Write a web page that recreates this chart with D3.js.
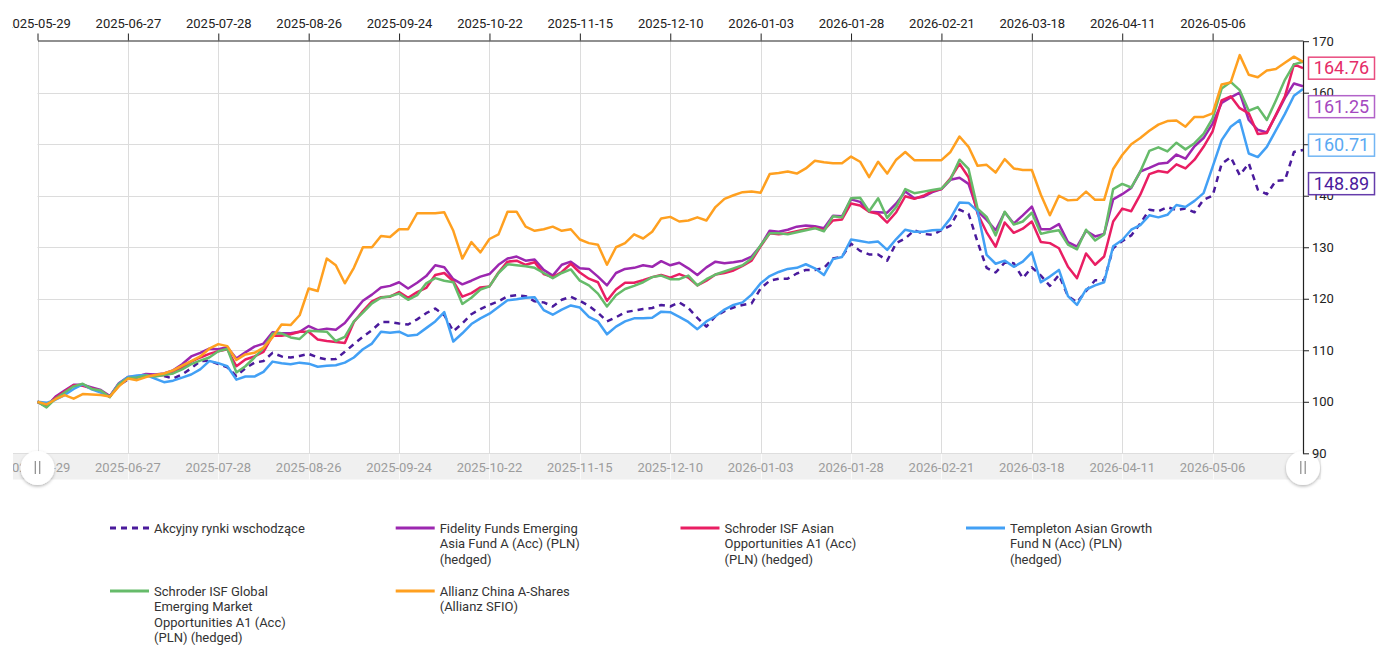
<!DOCTYPE html>
<html><head><meta charset="utf-8">
<script src="https://cdn.jsdelivr.net/npm/d3@7"></script>
<style>
html,body{margin:0;padding:0;background:#fff;}
svg{display:block;font-family:Roboto,"Noto Sans",sans-serif;}
</style></head><body>
<svg id="chart" width="1393" height="658"></svg>
<script>
// ---- data ----
const tickLabels = ["2025-05-29","2025-06-27","2025-07-28","2025-08-26","2025-09-24","2025-10-22","2025-11-15","2025-12-10","2026-01-03","2026-01-28","2026-02-21","2026-03-18","2026-04-11","2026-05-06"];
const pointsPerTick = 10;
const yTicks = [90,100,110,120,130,140,150,160,170];

const akcyjny = [100,99.4,100.7,101.9,103,103.2,102.6,102,101,103.2,
104.3,104.9,105.2,105.2,105,104.5,105.3,106.5,107.9,108,
107.3,106.7,105,106.5,107.6,107.9,109.5,108.8,108.6,108.9,
109.3,108.6,108.2,108.3,109.7,111.2,112.6,113.9,115.5,115.5,
115.2,115,116,117.2,118.1,116.8,113.7,115.2,117,118,
118.8,119.5,120.5,120.7,120.5,119.5,119.3,118.5,119.8,120.4,
119.6,118.6,117.3,115.6,116.4,117.4,117.7,118,118.2,118.8,
118.5,119.3,118.2,116.3,114.6,116.6,117.6,118.3,118.8,119.1,
122,123.5,123.9,123.9,124.9,125.6,125.6,126,127.8,128.2,
130.7,129.3,128.6,128.6,127.4,130.8,131.7,133.3,132.6,132.4,
133.3,134.2,137.3,136.5,131,126,125.1,127,126.9,124,
126.1,124.5,122.5,124.6,120.5,119.3,121.5,123.6,123.6,129.8,
131.2,132.3,134.6,137.3,137,137.8,137.2,137.5,136.8,139.2,
140,146.2,147.5,144,146.3,141.2,140.3,142.9,143,148.5,148.89];

const fidelity = [100,99.1,101,102.2,103.3,103.3,102.8,102.3,101.1,103.6,
104.8,104.9,105.4,105.3,105.5,106.1,107.3,108.8,109.5,110.3,
110.2,110.6,108.4,109.6,110.7,111.3,113.5,113.3,113.3,113.6,
114.7,113.9,114.2,114,115.3,117.5,119.6,120.8,122.2,122.5,
123.2,122,123.1,124.4,126.5,126.1,123.8,122.8,123.5,124.3,
124.8,126.6,127.8,128.2,127.4,127.6,125.6,124.5,126.6,127.2,
125.9,125.8,124.3,122.6,125,125.8,126,126.5,126.2,127.3,
126.5,127,125.9,124.6,126.1,127.2,126.9,127.1,127.4,128.2,
130.3,133.2,133,133.4,134,134.2,134.1,133.7,136.1,136,
139.3,138.8,136.9,136.8,136.7,138.5,140.8,139.5,139.8,140.7,
141.3,143.1,143.5,142.3,137,135.3,133.3,136.8,134.6,136.2,
137.9,133.5,133.5,134.5,131,130.1,133.2,132.1,132.6,139.3,
140.3,141.5,144.7,145.4,146.2,146.4,148,147.2,149.6,151.2,
154,158,159.1,160,154.7,152.8,152.3,155.6,159,161.8,161.25];

const schroderAsian = [100,99.1,100.8,102,103.2,103.1,102.6,102.1,101,103.5,
104.6,104.7,105.2,105,105.2,105.6,106.6,107.8,108.6,109.3,
109.8,110.2,106.9,108.2,108.8,109.7,112.8,112.8,113.1,113.6,
113.6,112.1,111.8,111.6,111.4,115.5,117.6,119.5,120.3,120.4,
121.3,120.2,121.3,122.1,124.6,125,123.4,120.4,121.1,122.2,
122.4,125.1,127.2,127.4,126.6,127.1,124.8,124.2,125.2,126.8,
125.1,123.9,123.2,119.6,121.8,123.1,123.1,123.6,124.2,124.6,
124.1,124.8,124.1,122.6,123.5,124.7,125,125.5,126.4,127.4,
130.2,132.7,132.5,132.7,133.1,133.5,133.8,133.3,135.2,135.4,
138.5,138.1,136.9,136.5,134.8,136.8,139.9,139.4,140,140.9,
141.3,143.4,146.2,143.6,136.5,132.9,130.1,134.8,132.8,133.6,
135,131,130.8,129.8,126.2,124,128.8,126.6,128.2,135,
137.5,137,140.2,144.2,144.8,144.5,146.1,145.3,147,149.5,
152.5,158.5,159.3,157,156,152,152.2,155.7,159.3,165.5,164.76];

const templeton = [100,99.8,100.4,101.3,102.5,103.4,102.4,101.8,101,103.5,
104.8,105.1,105.2,104.5,103.8,104.1,104.7,105.3,106.3,107.9,
107.5,106.9,104.3,104.9,104.9,105.8,107.8,107.5,107.3,107.6,
107.4,106.8,107,107.1,107.6,108.6,110.2,111.3,113.6,113.4,
113.6,112.8,113,114.3,115.6,117.4,111.7,113.3,115.1,116.2,
117.1,118.4,119.7,119.9,120.2,120.3,117.8,116.9,117.9,118.7,
118.3,116.5,115.6,113.1,114.6,115.6,116.2,116.2,116.3,117.5,
117.4,116.5,115.5,114.1,115.6,116.6,117.9,118.8,119.3,120.8,
123,124.4,125.2,125.8,126,126.7,125.9,124.6,127.7,128.1,
131.5,131.2,130.9,131.1,129.5,131.6,133.4,133,133,133.3,
133.4,135.6,138.7,138.6,137,128.5,126.8,127.4,126.2,127.2,
129,123.2,124.3,125.6,120.5,118.8,121.8,122.6,123.2,130.2,
131.4,133.4,134.3,136.2,135.8,136.3,138.2,137.8,139,140.5,
145.6,150.8,153.4,154.7,148.2,147.5,149.5,152.7,155.9,159.4,160.71];

const schroderGlobal = [100,98.9,100.6,101.8,103,103.5,102.5,102.2,100.9,103.4,
104.6,104.7,105.1,104.9,105.2,105.5,106.3,107.3,108,108.6,
109.8,110.3,105.7,106.9,108.6,110.4,113.2,113.3,112.5,112.2,
113.8,113.7,113.6,111.8,112.6,115.6,117.3,119.1,120.2,120.5,
121,119.8,120.7,123,124,123.5,123.2,119,120.2,121.8,
122.4,125,126.7,126.5,126.3,126,125,124,125,125.7,
123.5,122.6,121,118.5,120.7,121.9,122.5,123.2,124.2,124.5,
123.8,123.8,124.5,122.6,123.8,124.7,125.3,125.9,126.5,127.8,
130.4,132.7,132.7,132.5,132.9,133.3,133.7,133.1,136,135.8,
139.5,139.6,137,139.5,135.7,137.8,141.3,140.5,140.8,141.1,
141.4,143.2,147,145.2,137.5,135.9,132.3,136.9,134.4,135,
136.7,132.6,133,133.3,130.5,129.6,133.4,131.3,132.5,141.3,
142.3,141.6,144.7,148.7,149.4,148.6,150.3,149,150.2,152,
155,160.8,162.1,160.5,156.5,157.2,154.7,158.5,162.5,165.5,166];

const allianz = [100,99.5,100.5,101.3,100.6,101.5,101.4,101.3,101,103,
104.5,104.2,104.8,105.2,105.5,106.1,107,107.9,108.8,110.3,
111.2,110.8,108.1,109.2,109.5,110.5,112.5,115,114.9,116.8,
122,121.5,127.8,126.5,123,126,130,130,132.2,132,
133.5,133.5,136.6,136.6,136.6,136.8,133.2,127.8,131,129,
131.6,132.5,136.9,136.9,134,133.2,133.5,134,133.2,133.5,
131.5,130.8,130.5,126.6,130,130.8,132.5,131.7,133,135.6,
135.9,135,135.2,135.8,135.2,137.8,139.4,140.1,140.7,140.8,
140.6,144.2,144.4,144.7,144.3,145.3,146.8,146.5,146.3,146.3,
147.6,146.6,143.6,146.6,144.3,147,148.5,146.9,146.9,146.9,
146.9,148.5,151.5,149.5,145.8,146,144.5,147.1,145.3,145,
145,140.2,136.2,140,139.1,139.2,140.8,139.2,139.2,145.2,
147.9,150,151.2,152.6,153.8,154.5,154.6,153.4,155.3,155.3,
156,161.6,162,167.3,163.5,163,164.3,164.6,165.8,167,166];

const seriesNames = ["Akcyjny rynki wschodzące","Fidelity Funds Emerging Asia Fund A (Acc) (PLN) (hedged)","Schroder ISF Asian Opportunities A1 (Acc) (PLN) (hedged)","Templeton Asian Growth Fund N (Acc) (PLN) (hedged)","Schroder ISF Global Emerging Market Opportunities A1 (Acc) (PLN) (hedged)","Allianz China A-Shares (Allianz SFIO)"];
const legendLines = [
  ["Akcyjny rynki wschodzące"],
  ["Fidelity Funds Emerging","Asia Fund A (Acc) (PLN)","(hedged)"],
  ["Schroder ISF Asian","Opportunities A1 (Acc)","(PLN) (hedged)"],
  ["Templeton Asian Growth","Fund N (Acc) (PLN)","(hedged)"],
  ["Schroder ISF Global","Emerging Market","Opportunities A1 (Acc)","(PLN) (hedged)"],
  ["Allianz China A-Shares","(Allianz SFIO)"]
];
const seriesValues = [akcyjny, fidelity, schroderAsian, templeton, schroderGlobal, allianz];
const seriesColors = ["#4a1a9c","#9c27b0","#e91e63","#42a0f5","#66bb6a","#ffa020"];
const labelColors  = ["#4a1a9c","#a548c0","#e52d68","#5aa9f2"];
const labelled = [2,1,3,0]; // series with end-value labels

// ---- chart ----
const svg = d3.select("#chart");
const defs = svg.append("defs");
defs.append("clipPath").attr("id","pageClip").append("rect").attr("x",12).attr("y",0).attr("width",1381).attr("height",658);
defs.append("clipPath").attr("id","bandClip").append("rect").attr("x",13).attr("y",453).attr("width",1308).attr("height",27);
const f = defs.append("filter").attr("id","shadow").attr("x","-50%").attr("y","-50%").attr("width","200%").attr("height","200%");
f.append("feDropShadow").attr("dx",0).attr("dy",1.5).attr("stdDeviation",1.6).attr("flood-color","#000").attr("flood-opacity",0.28);

const root = svg.append("g").attr("clip-path","url(#pageClip)");

const N = akcyjny.length - 1;
const x = d3.scaleLinear().domain([0, N]).range([37.5, 1303]);
const y = d3.scaleLinear().domain([90, 170]).range([453.3, 41.2]);
const tickIdx = tickLabels.map((d,i)=>i*pointsPerTick);

// grid
const grid = root.append("g");
grid.selectAll(".vg").data(tickIdx).join("line")
  .attr("x1",d=>Math.round(x(d))+0.5).attr("x2",d=>Math.round(x(d))+0.5)
  .attr("y1",40.5).attr("y2",453.5).attr("stroke","#dcdcdc").attr("stroke-width",1);
grid.selectAll(".hg").data(yTicks.filter(v=>v>90 && v<170)).join("line")
  .attr("x1",37.5).attr("x2",1303)
  .attr("y1",d=>Math.round(y(d))+0.5).attr("y2",d=>Math.round(y(d))+0.5)
  .attr("stroke","#dcdcdc").attr("stroke-width",1);

// band (navigator)
const band = root.append("g");
band.append("rect").attr("x",13).attr("y",453.5).attr("width",1308).attr("height",26).attr("fill","#f0f0f0");
band.append("line").attr("x1",13).attr("x2",1321).attr("y1",453.5).attr("y2",453.5).attr("stroke","#dedede");
const bandIn = band.append("g").attr("clip-path","url(#bandClip)");
bandIn.selectAll("line.bl").data(tickIdx).join("line")
  .attr("x1",d=>Math.round(x(d))+0.5).attr("x2",d=>Math.round(x(d))+0.5)
  .attr("y1",454).attr("y2",479.5).attr("stroke","#fbfbfb");
bandIn.selectAll("text").data(tickIdx).join("text")
  .attr("x",d=>x(d)).attr("y",472.3).attr("text-anchor","middle")
  .attr("font-size",13).attr("fill","#9c9c9c").text((d,i)=>tickLabels[i]);

// lines
const line = d3.line().x((d,i)=>x(i)).y(d=>y(d));
const lines = root.append("g");
seriesValues.forEach((vals,k)=>{
  lines.append("path").attr("d",line(vals)).attr("fill","none")
    .attr("stroke",seriesColors[k]).attr("stroke-width",2.5)
    .attr("stroke-linejoin","round")
    .attr("stroke-dasharray", k===0 ? "6,5" : null);
});

// handles
[x(0), x(N)].forEach(cx=>{
  const h = root.append("g");
  h.append("circle").attr("cx",cx).attr("cy",468).attr("r",17).attr("fill","#fff").attr("filter","url(#shadow)");
  [-2.2,2.2].forEach(dx=>h.append("line").attr("x1",cx+dx).attr("x2",cx+dx).attr("y1",461).attr("y2",474).attr("stroke","#8a8a8a").attr("stroke-width",1.2));
});

// top axis
const topAxis = root.append("g").attr("transform","translate(0,40.5)")
  .call(d3.axisTop(x).tickValues(tickIdx).tickFormat((d,i)=>tickLabels[i]).tickSize(7).tickSizeOuter(0).tickPadding(6));
topAxis.selectAll("text").attr("font-size",13).attr("fill","#222").attr("font-family","Roboto");
topAxis.selectAll("line").attr("stroke","#222");
topAxis.select(".domain").attr("stroke","#222").attr("stroke-width",1.2);

// right axis
const rightAxis = root.append("g").attr("transform","translate(1303,0)")
  .call(d3.axisRight(y).tickValues(yTicks).tickSize(6).tickSizeOuter(0).tickPadding(3));
rightAxis.selectAll("text").attr("font-size",13).attr("fill","#222").attr("font-family","Roboto");
rightAxis.selectAll("line").attr("stroke","#222");
rightAxis.select(".domain").attr("stroke","#222").attr("stroke-width",1.2);

// end value labels
let prev = -Infinity;
const labelsG = root.append("g");
labelled.map((k,j)=>({k, j, v: seriesValues[k][N]})).sort((a,b)=>b.v-a.v).forEach(o=>{
  const cy = Math.max(y(o.v), prev + 38.5);
  prev = cy;
  const c = labelColors[o.j === undefined ? 0 : [2,1,3,0].indexOf(o.k)] ;
  const col = ({2:"#e52d68",1:"#a548c0",3:"#5aa9f2",0:"#4a1a9c"})[o.k];
  labelsG.append("rect").attr("x",1308.5).attr("y",cy-11).attr("width",66).attr("height",22)
    .attr("fill","#fff").attr("stroke",col).attr("stroke-opacity",0.85).attr("stroke-width",1.5);
  labelsG.append("text").attr("x",1341.5).attr("y",cy).attr("dy","0.35em").attr("text-anchor","middle")
    .attr("font-size",18).attr("fill",col).text(d3.format(".2f")(o.v));
});

// legend
const legendCols = [110, 395.7, 680.5, 966];
const legendRows = [528, 591];
const lg = root.append("g");
legendLines.forEach((ls,k)=>{
  const cx = legendCols[k%4], cy = legendRows[Math.floor(k/4)];
  lg.append("line").attr("x1",cx).attr("x2",cx+39).attr("y1",cy).attr("y2",cy)
    .attr("stroke",seriesColors[k]).attr("stroke-width",3)
    .attr("stroke-dasharray", k===0 ? "6,5" : null);
  ls.forEach((t,j)=>{
    lg.append("text").attr("x",cx+44).attr("y",cy+j*15.5).attr("dy","0.35em")
      .attr("font-size",13).attr("fill","#333").text(t);
  });
});
</script>
</body></html>
